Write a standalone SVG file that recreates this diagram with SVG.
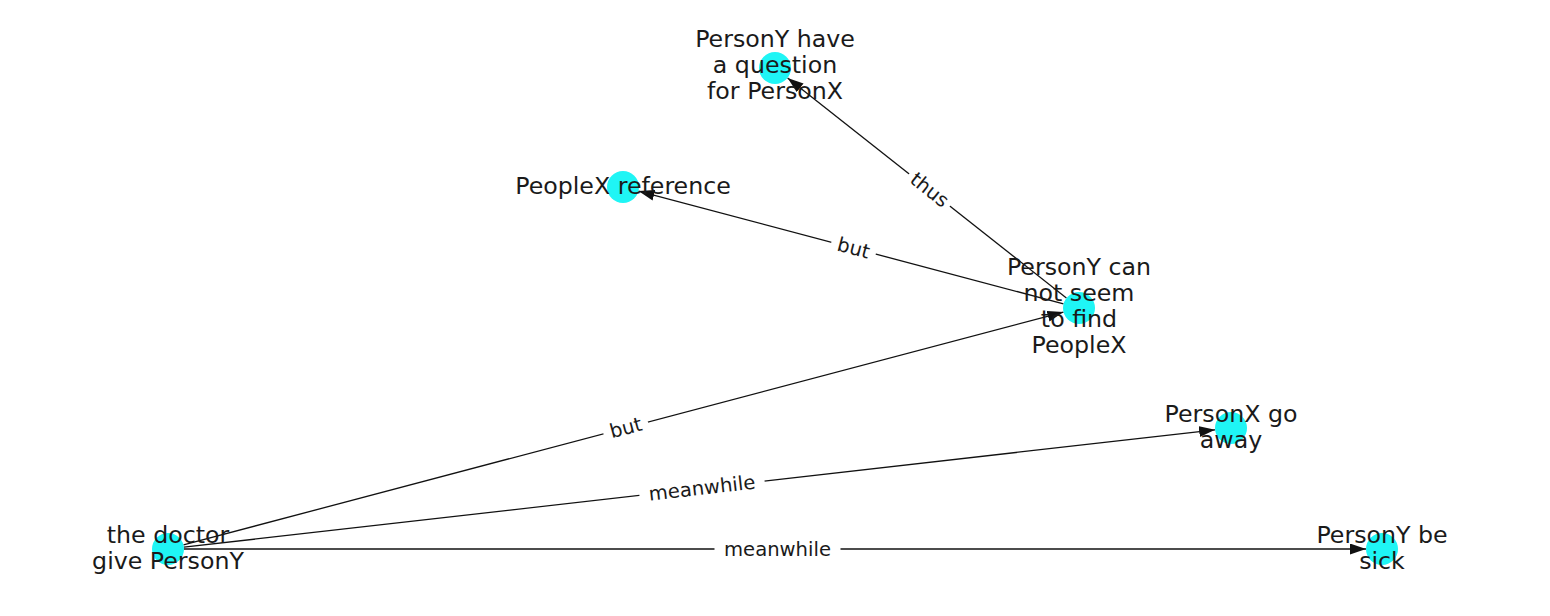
<svg xmlns="http://www.w3.org/2000/svg" width="1550" height="616" viewBox="0 0 1550 616">
<style>
.node circle{fill:#1ff5f5;stroke:none}
.node text{font-family:"DejaVu Sans",sans-serif;font-size:23.7px;fill:#1a1a1a;text-anchor:middle}
.edge line{stroke:#111;stroke-width:1.3;marker-end:url(#ah)}
.elabel rect{fill:#fff;stroke:none}
.elabel text{font-family:"DejaVu Sans",sans-serif;font-size:19.6px;fill:#1a1a1a;text-anchor:middle;dominant-baseline:central}
</style>
<defs>
<marker id="ah" markerUnits="userSpaceOnUse" markerWidth="17" markerHeight="12" refX="16" refY="5.5" orient="auto">
<path d="M0,0 L16,5.5 L0,11 z" fill="#111"/>
</marker>
</defs>
<rect width="1550" height="616" fill="#fff"/>
<g id="edges" class="edge">
<line x1="1066.4" y1="298.1" x2="787.6" y2="77.9"/>
<line x1="1063.5" y1="303.9" x2="638.5" y2="191.1"/>
<line x1="183.5" y1="544.9" x2="1063.5" y2="312.1"/>
<line x1="183.9" y1="547.2" x2="1215.1" y2="429.8"/>
<line x1="184" y1="549" x2="1366" y2="549"/>
</g>
<g id="nodes">
<g id="n_question" class="node"><circle cx="775" cy="68" r="16"/><text x="775" y="47">PersonY have</text><text x="775" y="73">a question</text><text x="775" y="99">for PersonX</text></g>
<g id="n_reference" class="node"><circle cx="623" cy="187" r="16"/><text x="623" y="194">PeopleX reference</text></g>
<g id="n_find" class="node"><circle cx="1079" cy="308" r="16"/><text x="1079" y="275">PersonY can</text><text x="1079" y="301">not seem</text><text x="1079" y="327">to find</text><text x="1079" y="353">PeopleX</text></g>
<g id="n_away" class="node"><circle cx="1231" cy="428" r="16"/><text x="1231" y="422">PersonX go</text><text x="1231" y="448">away</text></g>
<g id="n_doctor" class="node"><circle cx="168" cy="549" r="16"/><text x="168" y="543">the doctor</text><text x="168" y="569">give PersonY</text></g>
<g id="n_sick" class="node"><circle cx="1382" cy="549" r="16"/><text x="1382" y="543">PersonY be</text><text x="1382" y="569">sick</text></g>
</g>
<g id="edge-labels">
<g class="elabel" transform="translate(929.5,190) rotate(38.3)"><rect x="-26" y="-12" width="52" height="24"/><text x="0" y="0">thus</text></g>
<g class="elabel" transform="translate(853.5,248.2) rotate(14.9)"><rect x="-23" y="-12" width="46" height="24"/><text x="0" y="0">but</text></g>
<g class="elabel" transform="translate(625.7,427.9) rotate(-14.8)"><rect x="-23" y="-12" width="46" height="24"/><text x="0" y="0">but</text></g>
<g class="elabel" transform="translate(702,488.2) rotate(-6.5)"><rect x="-63" y="-12" width="126" height="24"/><text x="0" y="0">meanwhile</text></g>
<g class="elabel" transform="translate(777.5,549)"><rect x="-63" y="-12" width="126" height="24"/><text x="0" y="0">meanwhile</text></g>
</g>
</svg>
